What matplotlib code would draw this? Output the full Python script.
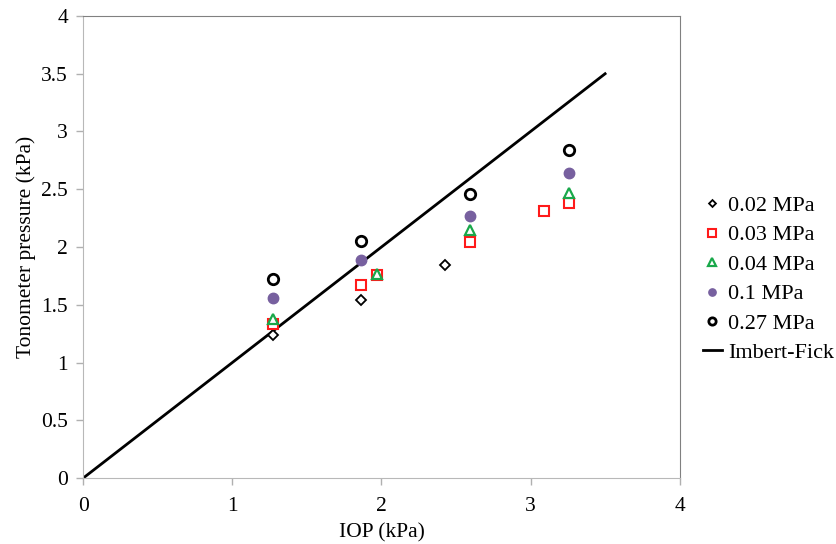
import matplotlib
matplotlib.use('Agg')
import matplotlib.pyplot as plt

plt.rcParams['font.family'] = ['Liberation Serif', 'DejaVu Serif']

# Tonometer readings (kPa) against IOP (kPa) for each corneal modulus
iop_002 = [1.275, 1.864, 2.425]
tp_002 = [1.238, 1.545, 1.843]

iop_003 = [1.275, 1.864, 1.973, 2.595, 3.092, 3.255]
tp_003 = [1.333, 1.672, 1.760, 2.042, 2.311, 2.377]

iop_004 = [1.275, 1.973, 2.595, 3.255]
tp_004 = [1.380, 1.768, 2.143, 2.464]

iop_01 = [1.275, 1.864, 2.595, 3.255]
tp_01 = [1.556, 1.890, 2.267, 2.638]

iop_027 = [1.275, 1.864, 2.595, 3.255]
tp_027 = [1.724, 2.056, 2.458, 2.840]

# Imbert-Fick law: tonometer pressure equals IOP
imbert_x = [0, 3.5]
imbert_y = [0, 3.5]

fig = plt.figure(figsize=(8.37, 5.44), dpi=100)
ax = fig.add_axes([0.0995, 0.1213, 0.7125, 0.8493])

ax.plot(imbert_x, imbert_y, color='black', lw=2, label='Imbert-Fick', zorder=2)
ax.plot(iop_002, tp_002, 'D', ms=5, mfc='white', mec='black', mew=1.3,
        label='0.02 MPa', zorder=3)
ax.plot(iop_003, tp_003, 's', ms=7.5, mfc='white', mec='#ff1a1a', mew=1.5,
        label='0.03 MPa', zorder=3)
ax.plot(iop_004, tp_004, '^', ms=7.5, mfc='white', mec='#19a84a', mew=1.6,
        label='0.04 MPa', zorder=4)
ax.plot(iop_01, tp_01, 'o', ms=7.5, mfc='#77609f', mec='#77609f',
        label='0.1 MPa', zorder=3)
ax.plot(iop_027, tp_027, 'o', ms=7.5, mfc='white', mec='black', mew=2,
        label='0.27 MPa', zorder=3)

ax.set_xlim(0, 4)
ax.set_ylim(0, 4)
ax.set_xticks([0, 1, 2, 3, 4])
ax.set_yticks([0, 0.5, 1, 1.5, 2, 2.5, 3, 3.5, 4])
ax.set_yticklabels(['0', '0.5', '1', '1.5', '2', '2.5', '3', '3.5', '4'])
ax.tick_params(direction='out', length=5, width=1, color='#b0b0b0',
               labelsize=15.5)
ax.tick_params(axis='x', pad=9)
ax.tick_params(axis='y', pad=6)
for side in ['left', 'bottom']:
    ax.spines[side].set_color('#b8b8b8')
for side in ['top', 'right']:
    ax.spines[side].set_color('#808080')

ax.set_xlabel('IOP (kPa)', fontsize=15.5, labelpad=5)
ax.set_ylabel('Tonometer pressure (kPa)', fontsize=15.5, labelpad=4)

handles, labels = ax.get_legend_handles_labels()
order = [1, 2, 3, 4, 5, 0]
ax.legend([handles[i] for i in order], [labels[i] for i in order],
          loc='center left', bbox_to_anchor=(1.039, 0.43), frameon=False,
          fontsize=16, markerscale=0.7, handlelength=0.85, handletextpad=0.3,
          labelspacing=0.4, borderaxespad=0, borderpad=0)

fig.savefig('out.png', dpi=100)
